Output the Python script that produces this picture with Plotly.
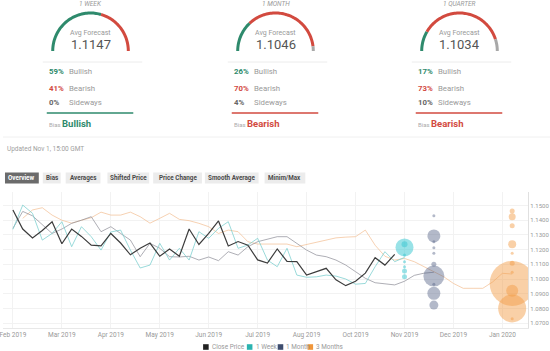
import math
import pandas as pd
import plotly.graph_objects as go

W, H = 550, 351
FONT = "Roboto"

# ---------------- data ----------------
horizons = ["1 WEEK", "1 MONTH", "1 QUARTER"]
avg_forecast = ["1.1147", "1.1046", "1.1034"]
bullish = [59, 26, 17]
bearish = [41, 70, 73]
sideways = [0, 4, 10]
bias = ["Bullish", "Bearish", "Bearish"]

dates = pd.date_range("2019-02-01", periods=52, freq="7D")
tick_dates = list(dates[::5])

close_price = [1.1470, 1.1340, 1.1280, 1.1330, 1.1390, 1.1240, 1.1340, 1.1290, 1.1230, 1.1225,
               1.1310, 1.1245, 1.1165, 1.1210, 1.1245, 1.1155, 1.1205, 1.1155, 1.1340, 1.1235,
               1.1310, 1.1395, 1.1225, 1.1255, 1.1230, 1.1130, 1.1108, 1.1205, 1.1120, 1.1118,
               1.1027, 1.1050, 1.1073, 1.0995, 1.0955, 1.0985, 1.1040, 1.1145, 1.1095, 1.1168]

week1_line = [1.1338, 1.1503, 1.1447, 1.1265, 1.1310, 1.1390, 1.1220, 1.1356, 1.1288, 1.1197,
              1.1320, 1.1333, 1.1197, 1.1075, 1.1095, 1.1243, 1.1129, 1.1209, 1.1129, 1.1322,
              1.1277, 1.1345, 1.1390, 1.1209, 1.1231, 1.1277, 1.1129, 1.1084, 1.1209, 1.1027,
              1.1012, 1.1015, 1.1027, 1.1020, 1.1000, 1.0965, 1.0970, 1.1084, 1.1186, 1.1118,
              1.1147]

month1_line = [1.1345, 1.1460, 1.1430, 1.1367, 1.1310, 1.1340, 1.1379, 1.1400, 1.1424, 1.1322,
               1.1356, 1.1310, 1.1265, 1.1152, 1.1243, 1.1209, 1.1152, 1.1150, 1.1155, 1.1129,
               1.1150, 1.1125, 1.1186, 1.1163, 1.1220, 1.1254, 1.1270, 1.1288, 1.1288, 1.1243,
               1.1197, 1.1163, 1.1152, 1.1129, 1.1095, 1.1050, 1.1005, 1.0975, 1.0970, 1.0960,
               1.0985, 1.1025, 1.1040, 1.1046]

month3_line = [None, 1.1413, 1.1470, 1.1485, 1.1435, 1.1400, 1.1380, 1.1400, 1.1417, 1.1455,
               1.1435, 1.1435, 1.1455, 1.1424, 1.1380, 1.1413, 1.1447, 1.1406, 1.1397, 1.1379,
               1.1356, 1.1310, 1.1333, 1.1322, 1.1254, 1.1238, 1.1238, 1.1240, 1.1238, 1.1220,
               1.1235, 1.1254, 1.1265, 1.1280, 1.1285, 1.1288, 1.1333, 1.1230, 1.1155, 1.1129,
               1.1140, 1.1118, 1.1084, 1.1050, 1.1016, 1.0970, 1.0937, 1.0937, 1.0937, 1.0980,
               1.1039, 1.1034]

week1_bubbles = [1.1215, 1.1236, 1.1163, 1.1118, 1.1084, 1.1054, 1.1016]
week1_sizes = [18, 6, 3, 3, 3, 5, 5]
month1_bubbles = [1.1431, 1.1293, 1.1254, 1.1213, 1.1175, 1.1100, 1.1020, 1.0964, 1.0903, 1.0823]
month1_sizes = [3, 13, 3, 3, 3, 5, 21, 3, 13, 9]
month3_bubbles = [1.1463, 1.1424, 1.1363, 1.1236, 1.1175, 1.1107, 1.1046, 1.0970, 1.0920, 1.0800, 1.0730]
month3_sizes = [5, 7, 5, 8, 3, 5, 3, 45, 12, 28, 3]

buttons = ["Overview", "Bias", "Averages", "Shifted Price", "Price Change", "Smooth Average", "Minim/Max"]
legend_names = ["Close Price", "1 Week", "1 Month", "3 Months"]

# ---------------- styles ----------------
GREEN = "#2e8a6c"
RED = "#d24a3f"
GREY = "#a8a8a8"
legend_colors = ["#222222", "#2bb3b0", "#3e4d6e", "#f0963a"]


def P(x, y):
    return x / W, 1 - y / H


shapes = []
annotations = []


def text(x, y, s, size=7, color="#777", anchor="left", bold=False, italic=False, ya="middle"):
    px, py = P(x, y)
    if bold:
        s = "<b>" + s + "</b>"
    if italic:
        s = "<i>" + s + "</i>"
    annotations.append(dict(x=px, y=py, xref="paper", yref="paper", text=s, showarrow=False,
                            xanchor=anchor, yanchor=ya,
                            font=dict(family=FONT, size=size, color=color)))


def hline(x0, x1, y, color, width=1):
    a = P(x0, y)
    b = P(x1, y)
    shapes.append(dict(type="line", xref="paper", yref="paper", x0=a[0], y0=a[1], x1=b[0], y1=b[1],
                       line=dict(color=color, width=width)))


def arc(cx, cy, r, t0, t1, color, width=3):
    n = max(int(abs(t0 - t1) / 2) + 2, 3)
    pts = []
    for i in range(n):
        t = math.radians(t0 + (t1 - t0) * i / (n - 1))
        x, y = P(cx + r * math.cos(t), cy - r * math.sin(t))
        pts.append(f"{x:.5f},{y:.5f}")
    path = "M " + " L ".join(pts)
    shapes.append(dict(type="path", xref="paper", yref="paper", path=path,
                       line=dict(color=color, width=width)))


# ---------------- gauges ----------------
centers = [88, 274, 459]
for i in range(3):
    cx = centers[i]
    cy, r = 51, 38
    a_bull = 180 - 180 * bullish[i] / 100
    a_bear = a_bull - 180 * bearish[i] / 100
    arc(cx, cy, r, 180, a_bull, GREEN)
    arc(cx, cy, r, a_bull, a_bear, RED)
    if sideways[i] > 0:
        arc(cx, cy, r, a_bear, 0, GREY)
    text(cx, 4.5, horizons[i], size=6.5, color="#999", anchor="center", italic=True)
    text(cx, 33, "Avg Forecast", size=7, color="#999", anchor="center")
    text(cx, 44, avg_forecast[i], size=13, color="#555", anchor="center")
    hline(cx - 48, cx + 52, 62, "#ececec", 1)
    px0 = cx - 44
    text(px0, 72, f"{bullish[i]}%", size=7.8, color=GREEN, bold=True)
    text(px0 + 20, 72, "Bullish", size=7.8, color="#9a9a9a")
    text(px0, 88, f"{bearish[i]}%", size=7.8, color=RED, bold=True)
    text(px0 + 20, 88, "Bearish", size=7.8, color="#9a9a9a")
    text(px0, 103, f"{sideways[i]}%", size=7.8, color="#666", bold=True)
    text(px0 + 20, 103, "Sideways", size=7.8, color="#9a9a9a")
    bc = GREEN if bias[i] == "Bullish" else RED
    hline(px0, px0 + 87, 113, bc, 1.5)
    text(px0, 124.5, "Bias", size=6, color="#aaa")
    text(px0 + 13, 124, bias[i], size=9.5, color=bc, bold=True)

hline(0, 550, 137, "#f0f0f0", 1)
text(2, 149, "Updated Nov 1, 15:00 GMT", size=6.5, color="#a0a0a0")

# ---------------- buttons ----------------
btn_x = [(2, 36), (40, 58), (63, 98), (105, 147), (151, 200), (203, 257), (263, 304)]
for i, name in enumerate(buttons):
    x0, x1 = btn_x[i]
    a = P(x0, 172.5)
    b = P(x1, 183.5)
    fill = "#6b6b6b" if i == 0 else "#ececec"
    shapes.append(dict(type="rect", xref="paper", yref="paper", x0=a[0], y0=b[1], x1=b[0], y1=a[1],
                       fillcolor=fill, line=dict(width=0), layer="below"))
    text((x0 + x1) / 2, 178, name, size=6.3, color="#fff" if i == 0 else "#4a4a4a",
         anchor="center", bold=True)

# ---------------- legend ----------------
leg_sq = [204, 248, 279, 309]
leg_tx = [208, 252, 283, 313]
for i, name in enumerate(legend_names):
    a = P(leg_sq[i] - 2.8, 344.2)
    b = P(leg_sq[i] + 2.8, 349.8)
    shapes.append(dict(type="rect", xref="paper", yref="paper", x0=a[0], y0=b[1], x1=b[0], y1=a[1],
                       fillcolor=legend_colors[i], line=dict(width=0)))
    text(leg_tx[i], 347, name, size=6.4, color="#999")

# ---------------- chart ----------------
fig = go.Figure()
fig.add_trace(go.Scatter(x=dates[:len(month3_line)], y=month3_line, mode="lines",
                         line=dict(color="rgba(242,190,145,0.7)", width=1), connectgaps=False))
fig.add_trace(go.Scatter(x=dates[:len(month1_line)], y=month1_line, mode="lines",
                         line=dict(color="rgba(140,140,150,0.7)", width=1)))
fig.add_trace(go.Scatter(x=dates[:len(week1_line)], y=week1_line, mode="lines",
                         line=dict(color="rgba(120,205,205,0.75)", width=1)))
fig.add_trace(go.Scatter(x=dates[:len(close_price)], y=close_price, mode="lines",
                         line=dict(color="#3c3c3c", width=1.2)))

fig.add_trace(go.Scatter(x=[dates[40]] * len(week1_bubbles), y=week1_bubbles, mode="markers",
                         marker=dict(size=week1_sizes, color="rgba(60,200,210,0.75)", line=dict(width=0))))
fig.add_trace(go.Scatter(x=[dates[43]] * len(month1_bubbles), y=month1_bubbles, mode="markers",
                         marker=dict(size=month1_sizes, color="rgba(80,95,130,0.62)", line=dict(width=0))))
fig.add_trace(go.Scatter(x=[dates[51]] * len(month3_bubbles), y=month3_bubbles, mode="markers",
                         marker=dict(size=month3_sizes, color="rgba(242,155,70,0.68)", line=dict(width=0))))

x_left = dates[0] - pd.Timedelta(days=7.1)
x_right = dates[51] + pd.Timedelta(days=11.4)

fig.update_layout(
    width=W, height=H, margin=dict(l=0, r=0, t=0, b=0),
    paper_bgcolor="white", plot_bgcolor="white",
    showlegend=False, hovermode=False,
    font=dict(family=FONT),
    shapes=shapes, annotations=annotations,
    xaxis=dict(domain=[0, 528 / W], range=[x_left, x_right], tickvals=tick_dates,
               tickformat="%b %Y", tickfont=dict(size=6.5, color="#999"),
               ticklabeloverflow="allow",
               showgrid=True, gridcolor="#f2f2f2", gridwidth=1, zeroline=False,
               showline=True, linecolor="#e8e8e8", ticks="", ticklen=0),
    yaxis=dict(domain=[(H - 328) / H, (H - 192) / H], range=[1.0667, 1.1592], side="right",
               tickvals=[1.07, 1.08, 1.09, 1.10, 1.11, 1.12, 1.13, 1.14, 1.15],
               tickformat=".4f", tickfont=dict(size=6, color="#999"),
               showgrid=True, gridcolor="#f2f2f2", zeroline=False,
               showline=True, linecolor="#e0e0e0", ticks="", ticklen=0),
)

fig.write_html("out.html")
